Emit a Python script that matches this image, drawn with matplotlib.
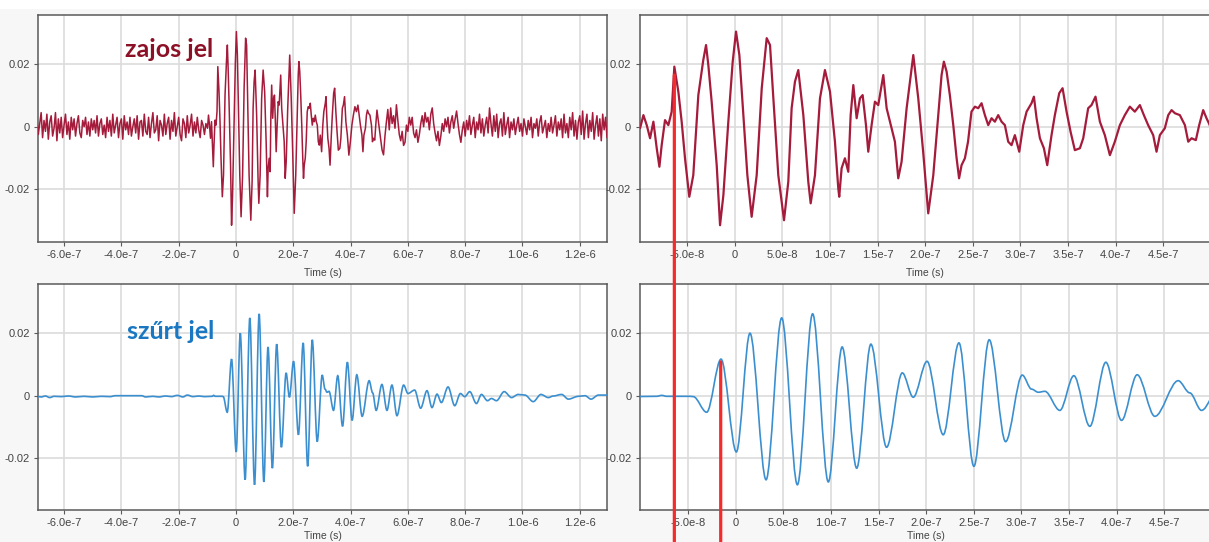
import numpy as np
import matplotlib
matplotlib.use("Agg")
import matplotlib.pyplot as plt
from matplotlib.path import Path
from matplotlib.patches import PathPatch, ConnectionPatch, Rectangle
import matplotlib.transforms as mtransforms

# ---------------- data (times in ns, values in V) ----------------
# noisy signal, before the window (uniform 5 ns steps from -700 ns), values in mV
noisy_pre_start = -700.0
noisy_pre_step = 5.0
noisy_pre_mv = [0.5, 3.0, -2.5, 1.0, 4.5, -3.5, 2.0, -1.5, 4.0, -4.0,
                1.5, 3.5, -3.0, -0.5, 4.5, -4.5, 2.5, -2.0, 3.0, -3.5,
                0.5, 4.0, -2.5, 1.5, -4.0, 3.0, -1.0, 2.5, -3.0, 1.0,
                3.5, -2.0, -3.5, 2.0, 0.0, 3.0, -2.5, 1.5, -3.0, 2.5,
                -1.0, 2.0, -2.0, 3.5, -3.0, 1.0, 2.5, -2.5, 0.5, -3.5,
                3.0, -1.5, 2.0, -3.0, 4.0, -2.0, 0.5, 3.0, -3.5, 1.0,
                2.5, -4.0, 3.5, -1.0, 1.5, -2.5, 3.0, -3.0, 0.0, 2.5,
                -2.0, 3.5, -4.0, 1.5, 2.0, -3.0, 4.0, -1.5, -2.5, 3.0,
                -3.5, 1.0, 4.5, -2.0, -1.0, 3.5, -4.5, 2.0, 0.5, -3.0,
                4.0, -2.5, 1.0, 3.0, -4.0, 2.0, -1.5, 4.5, -3.0, 0.0,
                3.0, -2.5, -4.5, 2.5, 1.0, -3.5, 3.5, -2.0, 0.5, 4.0,
                -3.0, 1.5, -2.0, 3.0, -1.0, -3.5, 2.0, 0.5, -2.5, 1.0]

# noisy signal inside the zoom window
noisy_win_t = [-99.4, -95.9, -92.4, -88.9, -85.4, -81.9, -79.1, -76.7, -73.2, -69.7,
               -66.2, -63.4, -59.2, -55.7, -52.2, -47.7, -43.5, -38.2, -33.0, -30.1,
               -27.7, -24.2, -18.9, -15.4, -11.9, -6.7, -2.1, 1.4, 4.9, 9.1,
               13.3, 17.8, 23.1, 28.4, 33.6, 37.1, 40.6, 45.8, 51.8, 56.3,
               59.8, 63.3, 66.8, 72.1, 77.3, 79.8, 84.3, 89.6, 94.8, 100.1,
               105.3, 108.8, 109.8, 112.3, 115.8, 119.3, 121.8, 124.6, 128.1, 131.6,
               134.4, 137.9, 140.3, 143.8, 147.3, 150.8, 156.1, 159.6, 164.8, 168.3,
               171.8, 175.3, 180.6, 187.6, 192.8, 198.1, 203.3, 208.6, 213.8, 217.3,
               219.7, 222.6, 226.0, 229.6, 233.1, 235.7, 238.3, 241.8, 245.1, 248.7,
               252.3, 255.8, 259.3, 262.8, 266.3, 269.8, 273.3, 276.8, 280.3, 283.8,
               287.3, 290.8, 294.3, 298.9, 303.1, 306.6, 311.8, 314.3, 317.1, 320.6,
               324.8, 328.3, 332.8, 336.3, 340.9, 344.4, 348.6, 352.8, 357.3, 362.6,
               366.1, 371.3, 374.8, 379.0, 383.6, 388.8, 394.1, 399.3, 404.6, 409.8,
               415.1, 420.3, 425.6, 429.8, 434.3, 439.6, 443.1, 446.6, 451.8, 455.4,
               458.9, 462.4, 467.6, 472.9, 476.4, 479.9, 484.4, 487.9, 492.1, 495.6,
               498.1]
noisy_win_v = [-0.0005, 0.0037, 0.0005, -0.0037, 0.0016, -0.0069, -0.0128, -0.0059, 0.0021, 0.0005,
               0.0048, 0.0192, 0.0112, 0.0016, -0.0101, -0.0224, -0.0155, 0.0101, 0.0213, 0.0261,
               0.0197, 0.0080, -0.0123, -0.0315, -0.0219, 0.0016, 0.0208, 0.0304, 0.0229, 0.0037,
               -0.0155, -0.0288, -0.0155, 0.0123, 0.0283, 0.0261, 0.0091, -0.0155, -0.0299, -0.0176,
               0.0059, 0.0144, 0.0181, 0.0037, -0.0176, -0.0245, -0.0155, 0.0091, 0.0181, 0.0112,
               -0.0048, -0.0197, -0.0224, -0.0133, -0.0101, -0.0144, 0.0037, 0.0133, 0.0027, 0.0091,
               0.0101, 0.0005, -0.0080, 0.0005, 0.0080, 0.0069, 0.0165, 0.0059, -0.0005, -0.0048,
               -0.0165, -0.0112, 0.0059, 0.0229, 0.0091, -0.0085, -0.0277, -0.0155, 0.0037, 0.0165,
               0.0208, 0.0176, 0.0101, 0.0005, -0.0101, -0.0165, -0.0123, -0.0101, -0.0048, 0.0048,
               0.0064, 0.0059, 0.0075, 0.0037, 0.0005, 0.0027, 0.0016, 0.0037, 0.0016, 0.0005,
               -0.0048, -0.0059, -0.0027, -0.0080, 0.0005, 0.0048, 0.0075, 0.0096, 0.0027, -0.0037,
               -0.0069, -0.0123, -0.0027, 0.0037, 0.0107, 0.0123, 0.0048, -0.0016, -0.0075, -0.0069,
               -0.0037, 0.0059, 0.0069, 0.0096, 0.0016, -0.0027, -0.0091, -0.0048, 0.0005, 0.0037,
               0.0064, 0.0048, 0.0069, 0.0037, 0.0005, -0.0027, -0.0080, -0.0027, -0.0005, 0.0037,
               0.0053, 0.0043, 0.0037, 0.0005, -0.0048, -0.0037, -0.0043, 0.0005, 0.0053, 0.0027,
               0.0011]

# noisy signal after the window (uniform 5 ns steps from 505 ns), values in mV
noisy_post_start = 505.0
noisy_post_step = 5.0
noisy_post_mv = [-4.0, -7.5, -9.0, -3.0, 1.5, 5.5, -1.0, 6.0, 1.0, 3.5,
                 -0.5, 7.0, 2.0, -2.5, -4.5, -1.5, -6.0, -5.0, 0.5, -1.5,
                 3.0, 0.5, 3.0, -2.0, -3.5, -1.0, -5.0, -2.5, 1.0, 3.5,
                 0.0, 4.5, 1.5, 3.0, -1.0, 4.0, 6.0, 1.0, -2.0, -4.5,
                 -1.5, -6.0, -3.0, 1.0, -1.5, 2.5, 0.0, 3.0, -2.0, 1.5,
                 3.5, -0.5, 2.5, 5.0, 1.0, -2.5, -5.0, -1.0, 1.5, -3.0,
                 2.0, -1.0, 3.5, -2.5, 0.5, 3.0, -3.5, 1.5, -1.0, 4.0,
                 -2.0, 2.5, -3.0, 0.5, 3.0, -2.0, 6.0, 1.0, -3.0, 3.5,
                 -1.5, 4.0, -3.5, 1.0, 2.5, -3.0, 4.5, -2.5, 0.5, 3.0,
                 -3.5, 1.5, -1.0, 2.5, -2.5, 0.5, 3.0, -1.5, 1.0, -3.0,
                 2.5, 0.0, -2.5, 2.0, -1.0, 3.0, -3.5, 1.0, -0.5, 2.5,
                 -3.0, 1.5, 3.5, -2.0, 0.0, 2.0, -3.5, 1.0, -1.5, 3.0,
                 -2.0, 0.5, 3.5, -3.0, 1.5, -1.0, 2.5, -3.5, 4.0, -2.0,
                 1.0, -3.5, 3.0, -1.0, 4.5, -3.0, 2.0, -4.0, 1.5, 3.5,
                 -2.5, 5.0, -4.0, 1.0, 4.0, -3.5, 2.0, -1.5, 4.5, -4.0,
                 0.5, 3.5, -3.0, 2.5, -4.5, 4.0, -1.0, 3.0, -3.5, 2.0]

# filtered signal: turning points (ns, V)
filt_t = [-700, -680, -665, -650, -635, -610, -585, -560, -530, -500,
          -470, -440, -420, -330, -315, -290, -270, -245, -225, -205,
          -185, -170, -150, -130, -110, -83, -77.7, -72.5, -48, -44.5,
          -30.5, -15.4, 0.7, 15.0, 31.9, 48.3, 64.8, 80.8, 97.3, 111.8,
          127.1, 142.0, 158.5, 175.0, 186.5, 201.0, 218.0, 234.5, 250.2, 266.3,
          283.5, 301.0, 310.8, 317.8, 324.8, 340.5, 355.2, 372.0, 388.8, 405.3,
          421.7, 440.3, 464.8, 477.0, 489.3, 509.4, 527.0, 544.4, 561.9, 585.2,
          600.3, 623.6, 644.6, 666.7, 684.2, 701.7, 716.9, 740.2, 763.5, 783.3,
          798.5, 816.0, 839.3, 856.8, 877.8, 891.8, 909.3, 936.1, 961.8, 985.1,
          1008.4, 1037.6, 1064.4, 1090.0, 1107.5, 1136.7, 1160.0, 1195.0, 1218.3, 1239.3,
          1265.0, 1300.9]
filt_v = [-0.0002, -0.0004, -0.0001, -0.0006, -0.0002, -0.0003, -0.0001, -0.0004, -0.0002, -0.0004,
          -0.0002, -0.0003, 0.0, 0.0, -0.0004, -0.0002, -0.0004, -0.0001, -0.0003, 0.0001,
          -0.0004, 0.0002, -0.0003, -0.0001, -0.0003, -0.0002, 0.0001, -0.0002, -0.0002, -0.0003,
          -0.0053, 0.0117, -0.0180, 0.0200, -0.0269, 0.0249, -0.0285, 0.0262, -0.0276, 0.0156,
          -0.0232, 0.0165, -0.0165, 0.0073, -0.0005, 0.0110, -0.0125, 0.0169, -0.0226, 0.0179,
          -0.0147, 0.0066, 0.0021, 0.0011, 0.0014, -0.0047, 0.0064, -0.0098, 0.0107, -0.0079,
          0.0067, -0.0066, 0.0048, 0.0009, -0.0047, 0.0036, -0.0047, 0.0034, -0.0064, 0.0034,
          0.0007, 0.0018, -0.0040, 0.0016, -0.0038, 0.0005, -0.0022, 0.0028, -0.0032, 0.0007,
          -0.0003, 0.0013, -0.0025, 0.0004, -0.0016, -0.0009, -0.0016, 0.0013, -0.0006, 0.0004,
          0.0002, -0.0019, 0.0004, -0.0006, -0.0001, 0.0004, -0.0011, -0.0002, 0.0, -0.0011,
          0.0002, 0.0002]

# marker lines (ns, V at the top end)
marker_t = [-63.4, -15.75]
marker_v = [0.0165, 0.0108]

full_xticks = [-6e-7, -4e-7, -2e-7, 0, 2e-7, 4e-7, 6e-7, 8e-7, 1e-6, 1.2e-6]
full_xlabels = ['-6.0e-7', '-4.0e-7', '-2.0e-7', '0', '2.0e-7', '4.0e-7', '6.0e-7',
                '8.0e-7', '1.0e-6', '1.2e-6']
zoom_xticks = [-5e-8, 0, 5e-8, 1e-7, 1.5e-7, 2e-7, 2.5e-7, 3e-7, 3.5e-7, 4e-7, 4.5e-7]
zoom_xlabels = ['-5.0e-8', '0', '5.0e-8', '1.0e-7', '1.5e-7', '2.0e-7', '2.5e-7',
                '3.0e-7', '3.5e-7', '4.0e-7', '4.5e-7']
yticks = [-0.02, 0, 0.02]
ylabels = ['-0.02', '0', '0.02']

# ---------------- assemble ----------------
ns = 1e-9
pre_t = (noisy_pre_start + noisy_pre_step * np.arange(len(noisy_pre_mv))) * ns
post_t = (noisy_post_start + noisy_post_step * np.arange(len(noisy_post_mv))) * ns
noisy_t = np.concatenate([pre_t, np.array(noisy_win_t) * ns, post_t])
noisy_v = np.concatenate([np.array(noisy_pre_mv) * 1e-3, np.array(noisy_win_v),
                          np.array(noisy_post_mv) * 1e-3])
ft = np.array(filt_t) * ns
fv = np.array(filt_v)

RED = '#a51b3b'
BLUE = '#3b8fcf'
GRID = '#dcdcdc'
SPINE = '#5a5a5a'
TXT = '#444444'

W, H = 1209, 542
fig = plt.figure(figsize=(W / 100, H / 100), dpi=100, facecolor='#f7f7f7')
fig.patches.append(Rectangle((0, 1 - 9 / H), 1, 9 / H, transform=fig.transFigure,
                             facecolor='white', edgecolor='none', zorder=-1))


def rect(l, r, t, b):
    return [l / W, 1 - b / H, (r - l) / W, (b - t) / H]


ax_tl = fig.add_axes(rect(38, 607, 15, 241.5))
ax_tr = fig.add_axes(rect(639.5, 1210.7, 15, 241.5))
ax_bl = fig.add_axes(rect(38, 607, 284, 509.7))
ax_br = fig.add_axes(rect(640.5, 1211.7, 284, 509.7))


def smooth_path(t, v):
    verts = [(t[0], v[0])]
    codes = [Path.MOVETO]
    for i in range(len(t) - 1):
        d = (t[i + 1] - t[i]) / 3.0
        verts += [(t[i] + d, v[i]), (t[i + 1] - d, v[i + 1]), (t[i + 1], v[i + 1])]
        codes += [Path.CURVE4] * 3
    return Path(verts, codes)


def style(ax, xt, xl, labelpad):
    ax.set_facecolor('white')
    ax.set_xticks(xt)
    ax.set_xticklabels(xl)
    ax.set_yticks(yticks)
    ax.set_yticklabels(ylabels)
    ax.grid(True, color=GRID, linewidth=1.2, zorder=0)
    ax.set_axisbelow(True)
    for s in ax.spines.values():
        s.set_color(SPINE)
        s.set_linewidth(1.1)
    ax.tick_params(axis='both', length=3, width=0.8, color=SPINE, labelsize=8,
                   labelcolor=TXT, pad=3)
    for lab in ax.get_xticklabels() + ax.get_yticklabels():
        lab.set_fontfamily('Liberation Sans')
    ax.set_xlabel('Time (s)', fontsize=7.5, color=TXT, family='Liberation Sans',
                  labelpad=labelpad)


for ax, xl, lw in [(ax_tl, (-6.91e-7, 1.295e-6), 1.1), (ax_tr, (-1e-7, 5e-7), 1.6)]:
    ax.plot(noisy_t, noisy_v, color=RED, linewidth=lw, zorder=3)
    ax.set_xlim(*xl)
    ax.set_ylim(-0.0367, 0.0357)

for ax, xl in [(ax_bl, (-6.91e-7, 1.295e-6)), (ax_br, (-1e-7, 5e-7))]:
    ax.add_patch(PathPatch(smooth_path(ft, fv), facecolor='none', edgecolor=BLUE,
                           linewidth=1.2, zorder=3))
    ax.set_xlim(*xl)
    ax.set_ylim(-0.03648, 0.03574)

style(ax_tl, full_xticks, full_xlabels, 6)
style(ax_bl, full_xticks, full_xlabels, 2)
style(ax_tr, zoom_xticks, zoom_xlabels, 6)
style(ax_br, zoom_xticks, zoom_xlabels, 2)

fig.text(125 / W, 1 - 57 / H, 'zajos jel', color='#8c1026', fontsize=18,
         fontweight='bold', family='Lato', ha='left', va='baseline')
fig.text(127 / W, 1 - 339 / H, 'szűrt jel', color='#1a78c2', fontsize=18,
         fontweight='bold', family='Lato', ha='left', va='baseline')

# red marker lines, from the marked peaks down to the bottom of the figure
blend = mtransforms.blended_transform_factory(ax_tr.transData, fig.transFigure)
con1 = ConnectionPatch(xyA=(marker_t[0] * ns, marker_v[0]), coordsA=ax_tr.transData,
                       xyB=(marker_t[0] * ns, 0.0), coordsB=blend,
                       color='#f52a2a', linewidth=2.3, zorder=10)
fig.add_artist(con1)
blend2 = mtransforms.blended_transform_factory(ax_br.transData, fig.transFigure)
con2 = ConnectionPatch(xyA=(marker_t[1] * ns, marker_v[1]), coordsA=ax_br.transData,
                       xyB=(marker_t[1] * ns, 0.0), coordsB=blend2,
                       color='#f52a2a', linewidth=2.3, zorder=10)
fig.add_artist(con2)

fig.savefig('out.png', dpi=100, facecolor=fig.get_facecolor())
